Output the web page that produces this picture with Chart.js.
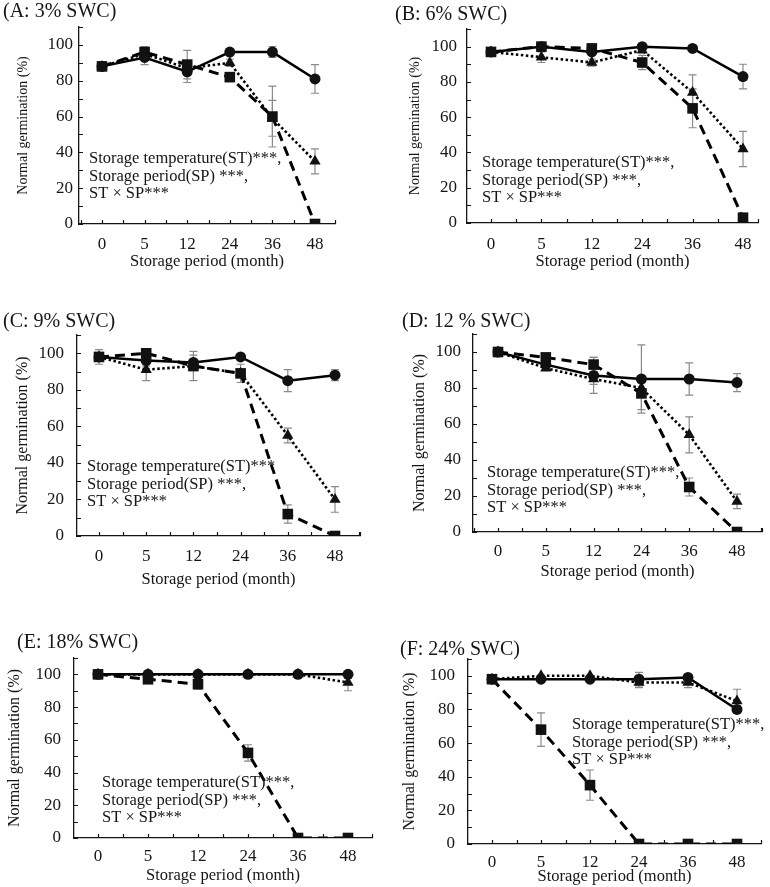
<!DOCTYPE html>
<html>
<head>
<meta charset="utf-8">
<script src="https://cdn.jsdelivr.net/npm/chart.js@4.4.1/dist/chart.umd.min.js"></script>
<style>
  body { margin: 0; background: #fff; width: 770px; height: 887px; position: relative; overflow: hidden; }
  canvas { position: absolute; }
</style>
</head>
<body>
<canvas id="cA"></canvas>
<canvas id="cB"></canvas>
<canvas id="cC"></canvas>
<canvas id="cD"></canvas>
<canvas id="cE"></canvas>
<canvas id="cF"></canvas>
<script>
// storage period categories (months)
const periods = ['0', '5', '12', '24', '36', '48'];
const yTicks = [0, 10, 20, 30, 40, 50, 60, 70, 80, 90, 100, 110];
const statsLines = ['Storage temperature(ST)***,', 'Storage period(SP) ***,', 'ST \u00d7 SP***'];

// A: 3% SWC
const aCircle = [88, 93, 85, 96, 96, 81];
const aCircleErr = [1, 4, 6, 0, 3, 8];
const aTriangle = [88, 95, 87, 90, 59, 35];
const aTriangleErr = [0, 2, 2, 2, 10, 7];
const aSquare = [88, 96, 89, 82, 60, 0];
const aSquareErr = [1, 3, 8, 2, 17, 0];

// B: 6% SWC
const bCircle = [97, 100, 97, 100, 99, 83];
const bCircleErr = [0, 1, 1, 0, 1, 7];
const bTriangle = [97, 94, 91, 98, 74, 42];
const bTriangleErr = [0, 3, 2, 1, 10, 10];
const bSquare = [97, 100, 99, 91, 65, 3];
const bSquareErr = [0, 1, 1, 4, 11, 0];

// C: 9% SWC
const cCircle = [98, 96, 95, 98, 85, 88];
const cCircleErr = [2, 3, 4, 1, 6, 3];
const cTriangle = [98, 91, 93, 89, 55, 20];
const cTriangleErr = [0, 6, 2, 2, 4, 7];
const cSquare = [98, 100, 93, 89, 12, 0];
const cSquareErr = [4, 1, 8, 5, 5, 0];

// D: 12% SWC
const dCircle = [100, 93, 87, 85, 85, 83];
const dCircleErr = [0, 1, 10, 19, 9, 5];
const dTriangle = [100, 91, 85, 80, 54, 17];
const dTriangleErr = [0, 1, 3, 3, 10, 4];
const dSquare = [100, 97, 93, 77, 25, 0];
const dSquareErr = [0, 1, 4, 9, 5, 0];

// E: 18% SWC
const eCircle = [100, 100, 100, 100, 100, 100];
const eCircleErr = [0, 0, 0, 0, 0, 0];
const eTriangle = [100, 100, 100, 100, 100, 95];
const eTriangleErr = [0, 0, 0, 0, 0, 5];
const eSquare = [100, 97, 94, 52, 0, 0];
const eSquareErr = [0, 2, 3, 5, 0, 0];

// F: 24% SWC
const fCircle = [98, 98, 98, 98, 99, 80];
const fCircleErr = [0, 1, 1, 4, 1, 2];
const fTriangle = [98, 100, 100, 96, 96, 85];
const fTriangleErr = [0, 0, 0, 3, 3, 7];
const fSquare = [98, 68, 35, 0, 0, 0];
const fSquareErr = [0, 10, 9, 0, 0, 0];

const FONT = "'Liberation Serif', 'Times New Roman', serif";
const INK = '#151515';
const TICK_SIZE = 17;
const XTITLE_SIZE = 16.5;

// page layout of each panel (canvas box, plot area, label offsets)
const panels = [
  { id: 'cA', title: '(A: 3% SWC)', box: [0, 0, 385, 290], area: [79, 27, 335, 224], c0: 102, c5: 315,
    yPad: 6, xLabOff: 21, xTitleOff: 38, yTitleX: 23, yTitleSize: 14, titleAt: [3, 12], noteAt: [89, 159],
    series: [aSquare, aSquareErr, aTriangle, aTriangleErr, aCircle, aCircleErr], notes: statsLines },
  { id: 'cB', title: '(B: 6% SWC)', box: [385, 0, 385, 290], area: [467, 29, 758, 223], c0: 491, c5: 743,
    yPad: 10, xLabOff: 22, xTitleOff: 39, yTitleX: 415, yTitleSize: 14, titleAt: [395, 15], noteAt: [482, 163],
    series: [bSquare, bSquareErr, bTriangle, bTriangleErr, bCircle, bCircleErr], notes: statsLines },
  { id: 'cC', title: '(C: 9% SWC)', box: [0, 290, 385, 300], area: [77, 335, 360, 536], c0: 99, c5: 335,
    yPad: 13, xLabOff: 21, xTitleOff: 44, yTitleX: 23, yTitleSize: 16, titleAt: [3, 322], noteAt: [87, 467],
    series: [cSquare, cSquareErr, cTriangle, cTriangleErr, cCircle, cCircleErr],
    notes: ['Storage temperature(ST)***', statsLines[1], statsLines[2]] },
  { id: 'cD', title: '(D: 12 % SWC)', box: [385, 290, 385, 300], area: [473, 334, 762, 532], c0: 498, c5: 737,
    yPad: 12, xLabOff: 20, xTitleOff: 40, yTitleX: 420, yTitleSize: 16, titleAt: [402, 322], noteAt: [487, 473],
    series: [dSquare, dSquareErr, dTriangle, dTriangleErr, dCircle, dCircleErr], notes: statsLines },
  { id: 'cE', title: '(E: 18% SWC)', box: [0, 590, 385, 297], area: [74, 658, 372, 838], c0: 98, c5: 348,
    yPad: 13, xLabOff: 19, xTitleOff: 38, yTitleX: 15, yTitleSize: 16, titleAt: [17, 643], noteAt: [102, 783],
    series: [eSquare, eSquareErr, eTriangle, eTriangleErr, eCircle, eCircleErr], notes: statsLines },
  { id: 'cF', title: '(F: 24% SWC)', box: [385, 590, 385, 297], area: [468, 659, 761, 844], c0: 492, c5: 737,
    yPad: 13, xLabOff: 19, xTitleOff: 33, yTitleX: 410, yTitleSize: 16, titleAt: [400, 650], noteAt: [572, 725],
    series: [fSquare, fSquareErr, fTriangle, fTriangleErr, fCircle, fCircleErr], notes: statsLines },
];

// gray error bars behind the markers
const errorBars = {
  id: 'errorBars',
  beforeDatasetsDraw(chart) {
    const ctx = chart.ctx, y = chart.scales.y;
    ctx.save();
    ctx.strokeStyle = '#8a8a8a';
    ctx.lineWidth = 1.2;
    chart.data.datasets.forEach((ds, i) => {
      const meta = chart.getDatasetMeta(i);
      ds.errors.forEach((e, j) => {
        if (!e) return;
        const px = meta.data[j].x;
        const v = ds.data[j].y;
        const top = y.getPixelForValue(v + e), bot = y.getPixelForValue(v - e);
        ctx.beginPath();
        ctx.moveTo(px, top); ctx.lineTo(px, bot);
        ctx.moveTo(px - 4, top); ctx.lineTo(px + 4, top);
        ctx.moveTo(px - 4, bot); ctx.lineTo(px + 4, bot);
        ctx.stroke();
      });
    });
    ctx.restore();
  }
};

// inward tick marks like the original spreadsheet axes
const innerTicks = {
  id: 'innerTicks',
  afterDraw(chart) {
    const ctx = chart.ctx, x = chart.scales.x, y = chart.scales.y;
    const a = chart.chartArea;
    ctx.save();
    ctx.strokeStyle = INK;
    ctx.lineWidth = 1.2;
    ctx.beginPath();
    for (let v = -0.5; v <= 5.5; v += 0.5) {
      if (v < x.min || v > x.max) continue;
      const px = Math.round(x.getPixelForValue(v)) + 0.5;
      ctx.moveTo(px, a.bottom); ctx.lineTo(px, a.bottom - 4);
    }
    const ex = Math.round(a.right) + 0.5;
    ctx.moveTo(ex, a.bottom); ctx.lineTo(ex, a.bottom - 4);
    yTicks.forEach(v => {
      const py = Math.round(y.getPixelForValue(v)) + 0.5;
      ctx.moveTo(a.left, py); ctx.lineTo(a.left + 4, py);
    });
    ctx.stroke();
    ctx.restore();
  }
};

// panel title and the statistics note
const panelText = {
  id: 'panelText',
  afterDraw(chart) {
    const p = chart.options.plugins.panelText;
    const ctx = chart.ctx;
    ctx.save();
    ctx.fillStyle = INK;
    ctx.textBaseline = 'middle';
    ctx.textAlign = 'left';
    ctx.font = '20px ' + FONT;
    ctx.fillText(p.title, p.titleAt[0], p.titleAt[1]);
    ctx.font = '16.5px ' + FONT;
    p.notes.forEach((t, i) => ctx.fillText(t, p.noteAt[0], p.noteAt[1] + i * 17.5));
    ctx.restore();
  }
};

function points(vals) {
  return vals.map((v, i) => ({ x: i, y: v }));
}

panels.forEach(p => {
  const [bl, bt, bw, bh] = p.box;
  const [L, T, R, B] = p.area;
  const cv = document.getElementById(p.id);
  cv.width = bw; cv.height = bh;
  cv.style.left = bl + 'px'; cv.style.top = bt + 'px';

  const sp = (p.c5 - p.c0) / 5;
  const xmin = -(p.c0 - L) / sp;
  const xmax = 5 + (R - p.c5) / sp;
  const yW = L - bl;
  const xH = bt + bh - B;
  const lh = TICK_SIZE * 1.2;
  const tlh = XTITLE_SIZE * 1.2;
  const ylh = p.yTitleSize * 1.2;

  const [sq, sqE, tr, trE, ci, ciE] = p.series;

  new Chart(cv, {
    type: 'line',
    data: {
      datasets: [
        { data: points(sq), errors: sqE, borderColor: '#000', backgroundColor: '#111', borderWidth: 3,
          borderDash: [10, 6], pointStyle: 'rect', pointRadius: 7.5, pointBorderWidth: 0 },
        { data: points(tr), errors: trE, borderColor: '#000', backgroundColor: '#111', borderWidth: 2.6,
          borderDash: [2.5, 2.5], pointStyle: 'triangle', pointRadius: 6.5, pointBorderWidth: 0 },
        { data: points(ci), errors: ciE, borderColor: '#000', backgroundColor: '#111', borderWidth: 2.5,
          pointStyle: 'circle', pointRadius: 5.5, pointBorderWidth: 0 },
      ]
    },
    options: {
      responsive: false,
      animation: false,
      layout: { padding: { left: 0, top: T - bt, right: bl + bw - R, bottom: 0 } },
      plugins: {
        legend: { display: false },
        tooltip: { enabled: false },
        panelText: {
          title: p.title,
          titleAt: [p.titleAt[0] - bl, p.titleAt[1] - bt],
          noteAt: [p.noteAt[0] - bl, p.noteAt[1] - bt],
          notes: p.notes,
        },
      },
      scales: {
        x: {
          type: 'linear',
          min: xmin,
          max: xmax,
          afterBuildTicks: s => { s.ticks = periods.map((_, i) => ({ value: i })); },
          afterFit: s => { s.height = xH; },
          grid: { display: false, drawTicks: false },
          border: { display: true, color: INK, width: 1.3 },
          ticks: { callback: v => periods[v], color: INK, font: { family: FONT, size: TICK_SIZE },
            padding: p.xLabOff - lh / 2, maxRotation: 0, autoSkip: false },
          title: { display: true, text: 'Storage period (month)', color: INK,
            font: { family: FONT, size: XTITLE_SIZE },
            padding: { top: 0, bottom: xH - p.xTitleOff - tlh / 2 } },
        },
        y: {
          min: 0,
          max: 110,
          afterBuildTicks: s => { s.ticks = yTicks.map(v => ({ value: v })); },
          afterFit: s => { s.width = yW; },
          grid: { display: false, drawTicks: false },
          border: { display: true, color: INK, width: 1.3 },
          ticks: { callback: v => (v % 20 === 0 && v <= 100) ? v : '', color: INK,
            font: { family: FONT, size: TICK_SIZE }, padding: p.yPad },
          title: { display: true, text: 'Normal germination (%)', color: INK,
            font: { family: FONT, size: p.yTitleSize },
            padding: { top: p.yTitleX - bl - ylh / 2, bottom: 0 } },
        }
      }
    },
    plugins: [errorBars, innerTicks, panelText]
  });
});
</script>
</body>
</html>
